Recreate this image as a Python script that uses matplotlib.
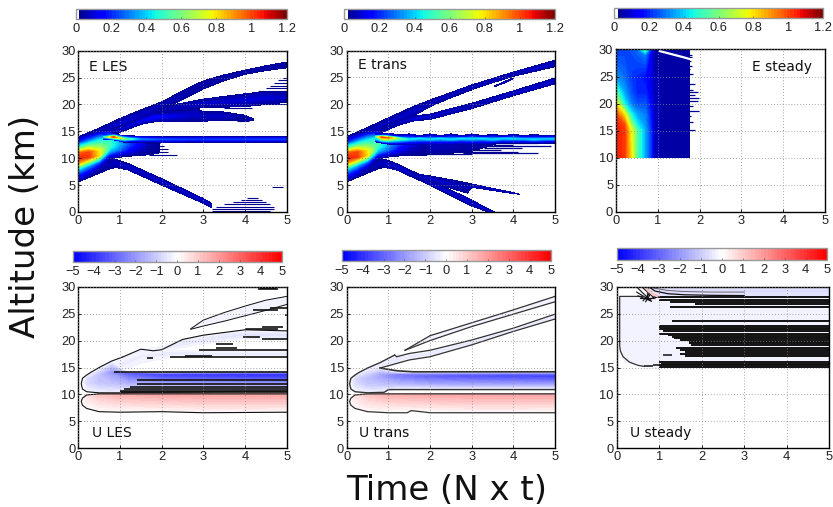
"""Six panel E / U time-altitude figure: filled contours on meshes that follow each plume branch."""

import numpy as np
import matplotlib
matplotlib.use("Agg")
import matplotlib.pyplot as plt
from matplotlib.cm import ScalarMappable
from matplotlib.colors import ListedColormap, Normalize

W, H = 833, 507
TICK_FONT = "Liberation Sans"

T_TICKS = [0, 1, 2, 3, 4, 5]
Z_TICKS = [0, 5, 10, 15, 20, 25, 30]
E_CB_TICKS = [0, 0.2, 0.4, 0.6, 0.8, 1, 1.2]
E_CB_LABELS = ["0", "0.2", "0.4", "0.6", "0.8", "1", "1.2"]
U_CB_TICKS = [-5, -4, -3, -2, -1, 0, 1, 2, 3, 4, 5]

# ---- shared start of the E plume (rows go bottom to top)
PLUME_T = [0, 0.25, 0.5, 0.75, 1, 1.25, 1.5, 1.75, 1.95]
PLUME_Z = [
    [5.6, 6.6, 7.6, 9.9, 10.2, 10.4, 10.5, 10.7, 11.0],
    [7.0, 7.6, 8.4, 10.2, 10.5, 10.7, 10.8, 10.9, 11.1],
    [8.0, 8.6, 9.2, 10.6, 10.8, 11.0, 11.1, 11.2, 11.3],
    [9.0, 9.4, 9.8, 11.0, 11.2, 11.3, 11.4, 11.5, 11.6],
    [10.0, 10.2, 10.5, 11.5, 11.6, 11.7, 11.8, 11.8, 11.8],
    [11.0, 11.1, 11.4, 12.0, 12.1, 12.1, 12.1, 12.1, 12.1],
    [12.0, 12.2, 12.4, 12.7, 12.6, 12.5, 12.5, 12.5, 12.4],
    [13.0, 13.3, 13.6, 13.7, 13.2, 13.1, 13.0, 13.0, 12.8],
    [14.0, 14.5, 15.0, 15.2, 13.6, 13.3, 13.2, 13.1, 13.0],
]
PLUME_V = [
    [.03, .03, .03, .03, .03, .03, .03, .03, .03],
    [.20, .15, .08, .08, .06, .05, .04, .03, .03],
    [.45, .35, .25, .18, .12, .08, .05, .04, .03],
    [.85, .70, .50, .30, .20, .12, .07, .05, .03],
    [1.05, 1.02, .80, .40, .28, .15, .08, .05, .03],
    [.95, 1.00, .78, .48, .32, .18, .10, .05, .03],
    [.50, .62, .60, .52, .36, .22, .12, .06, .03],
    [.18, .28, .38, .45, .35, .20, .10, .05, .03],
    [.03, .03, .03, .03, .03, .03, .03, .03, .03],
]

# ---- E LES branches: t, lower edge, upper edge, value on the centre line
LES_A = ([0, .5, 1, 1.5, 1.84, 2, 2.5, 3, 3.5, 4, 4.5, 5],
         [13.0, 14.3, 15.2, 17.0, 18.5, 19.0, 20.9, 22.9, 24.4, 25.6, 26.3, 26.8],
         [14.0, 15.6, 17.4, 19.0, 20.0, 20.5, 22.5, 24.4, 25.5, 26.4, 27.2, 27.9],
         [.03, .06, .10, .08, .07, .06, .06, .05, .05, .05, .05, .05])
LES_B = ([.8, 1, 1.5, 1.84, 2.5, 2.85, 3, 3.5, 4, 4.2],
         [14.3, 14.8, 16.3, 16.8, 16.8, 16.9, 16.9, 17.0, 16.9, 17.0],
         [15.5, 16.0, 17.5, 18.5, 19.0, 19.3, 18.6, 18.6, 18.0, 17.3],
         [.06, .08, .12, .16, .10, .08, .08, .08, .05, .04])
LES_C = ([1.84, 2.2, 2.85, 3, 3.5, 4, 4.5, 5],
         [18.3, 18.6, 19.3, 19.4, 19.5, 19.6, 20.0, 20.4],
         [18.5, 19.8, 20.8, 21.0, 21.5, 22.0, 22.4, 22.4],
         [.04, .06, .08, .08, .09, .10, .10, .08])
LES_LOW = ([0, .5, .75, .9, 1.2, 2, 3, 3.2],
           [5.6, 7.2, 8.0, 8.3, 7.8, 5.0, 1.6, 0.8],
           [8.0, 9.5, 9.9, 9.8, 9.0, 6.2, 2.5, 1.6],
           [.04, .06, .07, .08, .08, .08, .08, .06])
LES_JET = ([.6, .85, 1.1, 1.5, 2, 3, 5],
           [13.4, 13.4, 13.0, 13.0, 13.0, 13.0, 13.0],
           [14.5, 14.5, 14.2, 14.1, 14.0, 14.0, 14.0],
           [.40, 1.00, .60, .30, .25, .22, .22])
LES_FINGER_Z = [10.6, 11.1, 11.8, 12.3, 12.9, 19.3, 18.0, 17.4, 17.0, 20.1, 22.5, 23.0, 23.5, 24.0, 24.5, 25.0,
                4.6, .2, .6, 1.0, 1.4, 1.8, 2.2, 2.6]
LES_FINGER_T0 = [1.7, 1.7, 1.6, 1.6, 1.6, 3.5, 3.8, 3.8, 3.8, 4.4, 4.3, 4.5, 4.6, 4.7, 4.8, 4.9,
                 4.65, 3.2, 3.2, 3.3, 3.5, 3.7, 3.9, 4.05]
LES_FINGER_T1 = [2.36, 2.16, 2.16, 2.05, 1.95, 4.16, 3.8, 4.0, 4.1, 5, 5, 5, 5, 5, 5, 5,
                 4.9, 4.6, 4.7, 4.7, 4.6, 4.5, 4.4, 4.3]

# ---- E trans branches
TRANS_A = ([0, .5, 1, 1.6, 2, 2.5, 3, 3.5, 4, 4.5, 5],
           [13.0, 14.3, 15.4, 17.8, 19.6, 21.2, 22.7, 24.0, 25.2, 26.1, 27.0],
           [14.0, 15.7, 17.5, 19.6, 20.8, 22.2, 23.6, 24.8, 26.0, 27.1, 28.2],
           [.03, .06, .09, .08, .07, .07, .07, .07, .07, .08, .08])
TRANS_B = ([.8, 1.2, 1.6, 2, 3, 4, 5],
           [14.6, 16.0, 16.9, 17.2, 19.2, 21.6, 23.8],
           [15.6, 17.0, 17.8, 18.2, 20.2, 22.5, 24.9],
           [.05, .07, .10, .09, .07, .08, .09])
TRANS_SLIVER = ([3.55, 3.8, 4.0],
                [23.3, 24.0, 24.8],
                [23.4, 24.3, 24.9],
                [.05, .06, .05])
TRANS_LOW = ([0, .5, .75, .9, 1.2, 2, 3, 3.55],
             [5.6, 7.2, 8.0, 8.3, 7.8, 5.0, 1.1, -0.4],
             [8.0, 9.5, 9.9, 9.8, 9.0, 6.0, 2.2, 0.0],
             [.04, .06, .07, .08, .08, .08, .08, .08])
TRANS_LOW2 = ([1.5, 2, 2.5, 2.9, 3, 4, 4.15],
              [6.7, 5.6, 4.4, 3.5, 4.6, 3.4, 3.3],
              [7.3, 6.7, 6.0, 5.4, 5.2, 3.6, 3.3],
              [.06, .08, .08, .06, .07, .06, .04])
TRANS_SHELF = ([1.5, 2, 2.5, 3, 3.5],
               [10.5, 10.6, 10.9, 11.3, 12.4],
               [13.2, 13.2, 13.2, 13.1, 13.0],
               [.09, .07, .06, .05, .04])
TRANS_JET_T = [.7, .85, 1, 1.25, 1.5, 1.75, 2, 2.25, 2.5, 2.75, 3, 3.25, 3.5, 3.75, 4, 4.25, 4.5, 4.75, 5]
TRANS_JET_Z = [
    [13.0, 12.8, 12.6, 12.5, 12.5, 12.5, 12.5, 12.5, 12.5, 12.6, 12.6, 12.6, 12.6, 12.7, 12.7, 12.7, 12.7, 12.8, 12.8],
    [13.4, 13.2, 13.0, 13.0, 13.0, 13.0, 13.0, 13.0, 13.0, 13.1, 13.0, 13.1, 13.0, 13.1, 13.1, 13.1, 13.0, 13.1, 13.1],
    [14.0, 13.9, 13.8, 13.7, 13.5, 13.7, 13.5, 13.7, 13.5, 13.7, 13.6, 13.7, 13.5, 13.7, 13.6, 13.6, 13.5, 13.6, 13.6],
    [14.3, 14.3, 14.2, 14.0, 14.1, 13.9, 14.1, 13.9, 14.1, 13.9, 14.1, 13.9, 14.1, 13.9, 14.1, 13.9, 14.0, 13.9, 14.0],
    [14.6, 14.6, 14.6, 14.4, 14.5, 14.2, 14.5, 14.2, 14.5, 14.2, 14.5, 14.2, 14.4, 14.2, 14.4, 14.2, 14.4, 14.2, 14.3],
]
TRANS_JET_V = [
    [.03] * 19,
    [.30, .40, .30, .25, .18, .16, .15, .15, .15, .15, .15, .15, .15, .14, .13, .12, .12, .12, .12],
    [.55, 1.00, .95, .60, .42, .42, .40, .42, .40, .42, .40, .42, .40, .40, .40, .38, .40, .38, .38],
    [.12, .20, .20, .14, .12, .12, .12, .12, .12, .12, .12, .12, .12, .12, .12, .12, .12, .12, .12],
    [.03] * 19,
]
TRANS_FINGER_Z = [10.8, 11.0, 11.2, 11.5, 11.9, 12.2, 12.5, 12.8]
TRANS_FINGER_T0 = [1.5, 2.8, 2.8, 3.0, 3.3, 3.4, 3.5, 3.5]
TRANS_FINGER_T1 = [3.0, 4.6, 4.1, 3.7, 4.2, 4.9, 4.0, 4.6]

# ---- E steady
STEADY_E_T = [0, .2, .37, .5, .7, .85, .92, 1.75]
STEADY_E_Z = [10, 15, 16, 18, 20, 22, 25, 29, 30]
STEADY_E_V = [
    [1.05, 1.02, .80, .55, .35, .20, .06, .04],
    [1.05, 1.02, .75, .55, .35, .20, .06, .04],
    [1.05, 1.00, .65, .45, .33, .18, .06, .04],
    [1.00, .80, .45, .35, .30, .17, .06, .04],
    [.80, .45, .30, .25, .25, .15, .06, .04],
    [.55, .35, .25, .20, .20, .12, .06, .04],
    [.33, .28, .22, .20, .17, .10, .06, .04],
    [.24, .24, .24, .26, .30, .12, .05, .04],
    [.22, .24, .25, .28, .55, .15, .05, .04],
]
STEADY_FINGER_Z = [28.9, 28.6, 27.8, 27.0, 26.4, 25.4, 23.6, 22.6, 22.2, 21.6, 21.0, 20.4, 19.6, 18.6, 17.8, 16.6, 15.2]
STEADY_FINGER_T1 = [1.82, 1.82, 1.80, 1.82, 1.78, 1.85, 1.90, 1.85, 1.95, 1.88, 1.98, 1.95, 1.85, 1.98, 1.80, 1.85, 1.88]
STEADY_SLIT_T = [1.05, 1.3, 1.6, 1.78]
STEADY_SLIT_Z = [29.7, 29.2, 28.6, 28.2]

# ---- U panels: positive lobe below 10 km
LES_POS_T = [.07, .2, .5, 1, 2, 3, 5]
LES_POS_Z = [
    [8.7, 7.4, 6.8, 6.7, 6.8, 6.6, 6.7],
    [9.0, 8.5, 8.5, 8.5, 8.5, 8.5, 8.5],
    [9.3, 10.0, 10.1, 10.1, 10.1, 10.1, 10.1],
]
LES_POS_V = [
    [.05] * 7,
    [.05, .30, .60, .80, .90, 1.00, 1.00],
    [.05, .60, 1.20, 1.60, 1.80, 1.80, 1.80],
]
# negative lobe above 10 km
NEG_T = [.07, .2, .5, .8, 1.2, 2, 3, 5]
LES_NEG_Z = [
    [12.0, 10.5, 10.3, 10.3, 10.4, 10.4, 10.5, 10.6],
    [12.0, 12.0, 12.0, 12.0, 12.0, 12.0, 12.0, 12.0],
    [12.0, 13.0, 13.4, 13.6, 13.5, 13.3, 13.3, 13.3],
    [12.0, 13.4, 14.0, 14.0, 14.0, 13.9, 13.9, 13.9],
    [12.0, 13.6, 15.0, 16.2, 14.1, 14.1, 14.1, 14.1],
]
LES_NEG_V = [
    [-.05, -.2, -.3, -.3, -.2, -.2, -.2, -.2],
    [-.05, -.7, -1.1, -1.2, -1.5, -1.8, -1.9, -2.0],
    [-.05, -.7, -1.2, -1.8, -2.8, -3.4, -3.6, -3.8],
    [-.05, -.4, -1.0, -2.2, -3.2, -3.6, -3.8, -4.0],
    [-.2, -.3, -.3, -.3, -.3, -.5, -.8, -1.0],
]
LES_LILAC_1 = ([.5, 1, 1.5, 2.2, 3, 4, 5],
               [14.5, 14.2, 15.8, 16.9, 17.0, 17.0, 17.0],
               [15.0, 16.7, 18.3, 18.3, 18.0, 18.0, 18.0],
               [-.4, -.4, -.35, -.5, -.5, -.4, -.4])
LES_LILAC_2 = ([1.5, 2, 2.6, 3, 4, 5],
               [18.3, 18.0, 18.8, 19.4, 20.2, 20.2],
               [18.4, 18.9, 20.4, 21.0, 22.0, 21.8],
               [-.25, -.4, -.5, -.5, -.6, -.6])
LES_LILAC_3 = ([2.7, 3, 3.5, 4, 4.5, 5],
               [22.1, 22.7, 23.6, 24.6, 25.6, 26.7],
               [22.2, 23.8, 25.2, 26.4, 27.5, 28.2],
               [-.2, -.25, -.25, -.25, -.25, -.25])
LES_OUTLINE_T = [1.05, .8, .5, .3, .2, .1, .07, .1, .2, .5, 1, 1.5, 2, 3, 4, 5]
LES_OUTLINE_Z = [16.9, 16.2, 15, 14.1, 13.6, 13, 12, 11, 10.5, 10.3, 10.3, 10.4, 10.4, 10.5, 10.6, 10.6]
LES_TOP_T = [1.05, 1.5, 1.8, 2, 2.5, 3, 4, 5]
LES_TOP_Z = [16.9, 18.4, 18.1, 18.3, 20.2, 21.0, 22.0, 21.8]
LES_POS_LINE_T = [5, 3, 2, 1, .5, .2, .1, .07, .1, .2, .5, 1, 2, 5]
LES_POS_LINE_Z = [6.7, 6.6, 6.8, 6.7, 6.8, 7.4, 8.0, 8.7, 9.3, 9.9, 10.1, 10.1, 10.1, 10.1]
LES_STRIPE_Z = [14.1, 12.6, 12.0, 11.4, 11.0, 10.7, 10.5, 17.0, 18.2, 18.7, 19.3, 20.2, 20.7, 22.1, 22.6, 29.6, 29.7, 25.6, 26.0, 24.8,
                16.8, 17.2]
LES_STRIPE_T0 = [.85, 1.42, 1.42, 1.25, 1.1, 1.0, 1.0, 2.2, 2.9, 3.3, 3.3, 4.4, 3.95, 4.0, 4.4, 4.3, 4.35, 4.2, 4.6, 4.95,
                 1.65, 2.55]
LES_STRIPE_T1 = [5, 5, 5, 5, 5, 5, 5, 5, 5, 3.8, 3.7, 5, 4.35, 4.8, 4.9, 4.8, 4.75, 4.8, 5, 5,
                 1.8, 3.2]

TRANS_NEG_Z = [
    [12.0, 10.5, 10.3, 10.4, 10.9, 10.9, 10.9, 10.9],
    [12.0, 12.0, 11.9, 11.9, 11.8, 11.8, 11.8, 11.8],
    [12.0, 13.0, 13.0, 13.1, 13.2, 13.3, 13.3, 13.3],
    [12.0, 13.5, 13.8, 13.9, 13.8, 13.7, 13.7, 13.7],
    [12.0, 13.7, 14.8, 14.9, 14.2, 14.2, 14.2, 14.2],
]
TRANS_NEG_V = [
    [-.05, -.2, -.3, -.3, -.2, -.2, -.2, -.2],
    [-.05, -.7, -1.1, -1.2, -1.3, -1.6, -1.7, -1.8],
    [-.05, -.8, -1.3, -1.7, -2.4, -3.0, -3.3, -3.6],
    [-.05, -.5, -.9, -1.6, -2.4, -2.8, -3.2, -3.4],
    [-.2, -.3, -.3, -.4, -.5, -.6, -.7, -.9],
]
TRANS_LILAC_1 = ([.5, .8, 1.15, 1.5, 2, 3, 4, 5],
                 [14.8, 14.9, 15.5, 16.4, 17.0, 19.2, 21.7, 24.0],
                 [14.9, 15.8, 17.3, 17.6, 18.2, 20.1, 22.3, 24.9],
                 [-.4, -.5, -.5, -.5, -.5, -.6, -.6, -.6])
TRANS_LILAC_2 = ([1.4, 2, 3, 4, 5],
                 [18.2, 20.0, 22.6, 24.9, 27.2],
                 [18.2, 20.9, 23.3, 25.7, 28.2],
                 [-.2, -.25, -.25, -.25, -.25])
TRANS_NOSE_T = [1.15, .8, .5, .3, .2, .1, .07, .1, .2, .5, .9, 1.0, 2, 3, 4, 5]
TRANS_NOSE_Z = [17.3, 15.9, 14.9, 14.1, 13.6, 13, 12, 11, 10.5, 10.3, 10.4, 10.9, 10.9, 10.9, 10.9, 10.9]
TRANS_UP1_T = [1.15, 1.2, 1.5, 2, 3, 4, 5]
TRANS_UP1_Z = [17.3, 17.0, 17.6, 18.2, 20.1, 22.3, 24.9]
TRANS_LO1_T = [.8, 1.5, 2, 3, 4, 5]
TRANS_LO1_Z = [14.9, 16.4, 17.0, 19.2, 21.7, 24.0]
TRANS_UP2_T = [1.4, 2, 3, 4, 5]
TRANS_UP2_Z = [18.2, 20.9, 23.3, 25.7, 28.2]
TRANS_LO2_T = [1.4, 2, 3, 4, 5]
TRANS_LO2_Z = [18.2, 20.0, 22.6, 24.9, 27.2]
TRANS_ROOF_T = [.8, 1.2, 1.6, 2, 3, 4, 5]
TRANS_ROOF_Z = [14.9, 14.4, 14.2, 14.2, 14.2, 14.2, 14.2]
TRANS_POS_LINE_T = [5, 2, 1.55, 1.45, 1, .5, .2, .1, .07, .1, .2, .5, 1, 2, 5]
TRANS_POS_LINE_Z = [6.6, 6.6, 7.0, 6.6, 6.6, 6.8, 7.4, 8.0, 8.7, 9.3, 9.9, 10.1, 10.1, 10.1, 10.1]
TRANS_TOP_T0 = 4.5
TRANS_TOP_Z = 29.9

# ---- U steady
STEADY_U_BODY = ([.07, .2, .65, 1, 5],
                 [18.0, 16.0, 15.2, 15.0, 15.0],
                 [28.2, 28.2, 28.2, 28.0, 28.0],
                 [-.2, -.3, -.3, -.3, -.3])
STEADY_U_LID = ([.7, 1, 2, 5],
                [28.0, 28.0, 28.3, 28.4],
                [30.0, 30.0, 30.0, 30.0],
                [-.5, -.7, -.7, -.7])
STEADY_U_EDGE_T = [.65, .5, .3, .15, .09, .07, .07, .6]
STEADY_U_EDGE_Z = [15.2, 15.4, 16.0, 17.0, 18.0, 19.0, 28.2, 28.2]
STEADY_STRIPE_Z = [28.0, 27.6, 27.1, 26.8, 26.2, 23.6, 22.7, 22.4, 22.1, 21.7, 21.3, 21.0, 20.7, 20.4, 20.1, 19.8, 19.5,
                   19.2, 18.6, 18.2, 17.9, 17.5, 17.2, 16.0, 15.7, 15.4, 15.1]
STEADY_STRIPE_T0 = [.9, 1.0, 1.25, 1.85, 1.25, 1.3, 1.0, 1.0, 1.0, 1.1, 1.0, 1.2, 1.3, 1.35, 1.5, 1.7, 1.7,
                    1.75, 1.4, 1.5, 1.6, 1.5, 1.6, 1.0, 1.05, 1.0, 1.0]
STEADY_SHORT_Z = [17.4, 15.2, 15.4]
STEADY_SHORT_T0 = [1.1, .65, .85]
STEADY_SHORT_T1 = [1.3, .85, 1.0]
FAN_T0 = [.47, .5, .5, .55, .6, .62, .68, .72, .78]
FAN_Z0 = [29.0, 28.3, 29.7, 27.9, 29.9, 27.4, 27.2, 28.0, 27.6]
FAN_T1 = [.8, .82, .75, .85, .9, .78, .82, .75, .9]
FAN_Z1 = [27.4, 27.3, 27.8, 27.9, 27.8, 28.8, 29.0, 29.9, 28.2]
ARC_T = [.75, .9, 1.2, 1.6, 2.2, 3.0]
ARC_Z1 = [30.0, 29.2, 28.7, 28.5, 28.4, 28.35]
ARC_Z2 = [30.0, 29.7, 29.3, 29.1, 29.0, 29.0]
PINK_T = [.68, .75, .85, .95]
PINK_Z = [30.0, 29.2, 28.6, 28.3]

# ---- layout in reference pixels (left, top, right, bottom)
AX_BOX = [(78.3, 50.7, 286.7, 212), (346.7, 50.5, 555, 212), (616, 49.5, 825, 212),
          (78.3, 286.7, 286.7, 448.3), (346.7, 286.7, 555, 448.3), (616.7, 286.7, 829.3, 448.3)]
CB_BOX = [(76, 8.7, 286.7, 19.3), (344.3, 8.7, 555, 19), (614.3, 8, 823, 18.3),
          (72.7, 251, 281.7, 261.7), (341.7, 249.5, 550.7, 261), (616.7, 248, 826.7, 260)]
NAMES = ["E LES", "E trans", "E steady", "U LES", "U trans", "U steady"]
NAME_T = [.26, .26, 3.25, .32, .295, .31]
NAME_Z = [26.95, 27.3, 26.8, 2.85, 2.85, 2.9]

jet_colours = plt.get_cmap("jet", 64)(np.arange(64))
jet_colours[0] = [1, 1, 1, 1]
E_CMAP = ListedColormap(jet_colours)
E_NORM = Normalize(0, 1.2)
E_LEVELS = np.linspace(0, 1.2, 65)[1:]
U_CMAP = plt.get_cmap("bwr", 64)
U_NORM = Normalize(-5, 5)
U_LEVELS = np.linspace(-5, 5, 65)
DARK = "#000090"
INK = "#111111"


def px_box(box):
    l, t, r, b = box
    return [l / W, 1 - b / H, (r - l) / W, (b - t) / H]


def mesh(ax, t, z_rows, v_rows, levels, cmap, norm):
    t = np.asarray(t, float)
    z = np.asarray(z_rows, float)
    v = np.asarray(v_rows, float)
    T = np.tile(t, (z.shape[0], 1))
    ax.contourf(T, z, v, levels=levels, cmap=cmap, norm=norm, extend="neither", zorder=1)


def band(ax, data, edge, levels, cmap, norm):
    """Strip between two read-off edges, with its value on the centre line."""
    t, lo, hi, mid = data
    lo, hi, mid = np.array(lo, float), np.array(hi, float), np.array(mid, float)
    rows = [lo, (lo + hi) / 2, hi]
    vals = [np.full_like(mid, edge), mid, np.full_like(mid, edge)]
    mesh(ax, t, rows, vals, levels, cmap, norm)


def e_band(ax, data):
    band(ax, data, 0.03, E_LEVELS, E_CMAP, E_NORM)


def u_band(ax, data, edge=-0.2):
    band(ax, data, edge, U_LEVELS, U_CMAP, U_NORM)


def stripes(ax, z, t0, t1, color, lw):
    ax.hlines(z, t0, t1, colors=color, linewidth=lw, zorder=1.5)


def finish_axes(ax, name, nt, nz):
    ax.set_xlim(0, 5)
    ax.set_ylim(0, 30)
    ax.set_xticks(T_TICKS)
    ax.set_yticks(Z_TICKS)
    ax.set_axisbelow(False)
    ax.grid(True, color="#888888", linewidth=0.6, linestyle=(0, (1, 2.5)))
    ax.tick_params(direction="in", length=2, width=0.6, pad=2, labelsize=9.3, labelcolor="#222222")
    for label in ax.get_xticklabels() + ax.get_yticklabels():
        label.set_family(TICK_FONT)
    for spine in ax.spines.values():
        spine.set_linewidth(1.0)
    ax.text(nt, nz, name, fontsize=10, color="#111111", va="center", ha="left", zorder=5)


def add_colorbar(fig, box, cmap, norm, ticks, labels):
    cax = fig.add_axes(px_box(box))
    cb = fig.colorbar(ScalarMappable(norm=norm, cmap=cmap), cax=cax, orientation="horizontal")
    cb.set_ticks(ticks)
    cb.set_ticklabels(labels)
    cb.outline.set_edgecolor("#999999")
    cb.outline.set_linewidth(1.0)
    cax.tick_params(direction="in", length=1.5, width=0.4, color="#333333", pad=3,
                    labelsize=9.3, labelcolor="#222222")
    for label in cax.get_xticklabels():
        label.set_family(TICK_FONT)


fig = plt.figure(figsize=(W / 100, H / 100), dpi=100)
axes = [fig.add_axes(px_box(b)) for b in AX_BOX]

# E LES
ax = axes[0]
for data in (LES_LOW, LES_A, LES_B, LES_C):
    e_band(ax, data)
mesh(ax, PLUME_T, PLUME_Z, PLUME_V, E_LEVELS, E_CMAP, E_NORM)
e_band(ax, LES_JET)
stripes(ax, LES_FINGER_Z, LES_FINGER_T0, LES_FINGER_T1, DARK, 0.8)

# E trans
ax = axes[1]
for data in (TRANS_LOW, TRANS_LOW2, TRANS_A, TRANS_B, TRANS_SLIVER, TRANS_SHELF):
    e_band(ax, data)
stripes(ax, TRANS_FINGER_Z, TRANS_FINGER_T0, TRANS_FINGER_T1, DARK, 0.9)
mesh(ax, PLUME_T, PLUME_Z, PLUME_V, E_LEVELS, E_CMAP, E_NORM)
mesh(ax, TRANS_JET_T, TRANS_JET_Z, TRANS_JET_V, E_LEVELS, E_CMAP, E_NORM)

# E steady
ax = axes[2]
stripes(ax, STEADY_FINGER_Z, 1.7, STEADY_FINGER_T1, DARK, 0.9)
S_T, S_Z = np.meshgrid(STEADY_E_T, STEADY_E_Z)
ax.contourf(S_T, S_Z, STEADY_E_V, levels=E_LEVELS, cmap=E_CMAP, norm=E_NORM, zorder=1)
ax.plot(STEADY_SLIT_T, STEADY_SLIT_Z, color="white", linewidth=1.6, zorder=1.6)

# U LES
ax = axes[3]
mesh(ax, LES_POS_T, LES_POS_Z, LES_POS_V, U_LEVELS, U_CMAP, U_NORM)
for data in (LES_LILAC_1, LES_LILAC_2, LES_LILAC_3):
    u_band(ax, data)
mesh(ax, NEG_T, LES_NEG_Z, LES_NEG_V, U_LEVELS, U_CMAP, U_NORM)
ax.plot(LES_OUTLINE_T, LES_OUTLINE_Z, color=INK, linewidth=0.8, zorder=1.6)
ax.plot(LES_TOP_T, LES_TOP_Z, color=INK, linewidth=0.8, zorder=1.6)
ax.plot(LES_POS_LINE_T, LES_POS_LINE_Z, color=INK, linewidth=0.8, zorder=1.6)
ax.plot(LES_LILAC_3[0], LES_LILAC_3[1], color=INK, linewidth=0.7, zorder=1.6)
ax.plot(LES_LILAC_3[0], LES_LILAC_3[2], color=INK, linewidth=0.7, zorder=1.6)
stripes(ax, LES_STRIPE_Z, LES_STRIPE_T0, LES_STRIPE_T1, INK, 1.2)

# U trans
ax = axes[4]
mesh(ax, LES_POS_T, LES_POS_Z, LES_POS_V, U_LEVELS, U_CMAP, U_NORM)
for data in (TRANS_LILAC_1, TRANS_LILAC_2):
    u_band(ax, data)
mesh(ax, NEG_T, TRANS_NEG_Z, TRANS_NEG_V, U_LEVELS, U_CMAP, U_NORM)
for line_t, line_z, lw in ((TRANS_NOSE_T, TRANS_NOSE_Z, 1.0), (TRANS_UP1_T, TRANS_UP1_Z, 0.9),
                           (TRANS_LO1_T, TRANS_LO1_Z, 0.9), (TRANS_UP2_T, TRANS_UP2_Z, 0.9),
                           (TRANS_LO2_T, TRANS_LO2_Z, 0.9), (TRANS_ROOF_T, TRANS_ROOF_Z, 1.2),
                           (TRANS_POS_LINE_T, TRANS_POS_LINE_Z, 0.9)):
    ax.plot(line_t, line_z, color="#333333", linewidth=lw, zorder=1.6)
stripes(ax, [TRANS_TOP_Z], TRANS_TOP_T0, 5, INK, 1.2)

# U steady
ax = axes[5]
u_band(ax, STEADY_U_BODY, edge=-0.25)
u_band(ax, STEADY_U_LID, edge=-0.5)
ax.plot(STEADY_U_EDGE_T, STEADY_U_EDGE_Z, color="#333333", linewidth=0.9, zorder=1.6)
stripes(ax, STEADY_STRIPE_Z, STEADY_STRIPE_T0, 5, INK, 1.4)
stripes(ax, STEADY_SHORT_Z, STEADY_SHORT_T0, STEADY_SHORT_T1, INK, 1.1)
for t0, z0, t1, z1 in zip(FAN_T0, FAN_Z0, FAN_T1, FAN_Z1):
    ax.plot([t0, t1], [z0, z1], color=INK, linewidth=0.8, zorder=1.6)
ax.plot(ARC_T, ARC_Z1, color=INK, linewidth=0.9, zorder=1.6)
ax.plot(ARC_T, ARC_Z2, color="#555555", linewidth=0.6, zorder=1.6)
ax.plot(PINK_T, PINK_Z, color="#f5c6c0", linewidth=2.0, zorder=1.7)

for ax, name, nt, nz in zip(axes, NAMES, NAME_T, NAME_Z):
    finish_axes(ax, name, nt, nz)

for i, box in enumerate(CB_BOX):
    if i < 3:
        add_colorbar(fig, box, E_CMAP, E_NORM, E_CB_TICKS, E_CB_LABELS)
    else:
        add_colorbar(fig, box, U_CMAP, U_NORM, U_CB_TICKS, [str(v).replace("-", "\u2212") for v in U_CB_TICKS])

fig.text(26 / W, 1 - 226 / H, "Altitude (km)", rotation=90, fontsize=24.5, ha="center", va="center", color="#111111")
fig.text(447 / W, 1 - 490 / H, "Time (N x t)", fontsize=24.5, ha="center", va="center", color="#111111")

fig.savefig("out.png", dpi=100)
